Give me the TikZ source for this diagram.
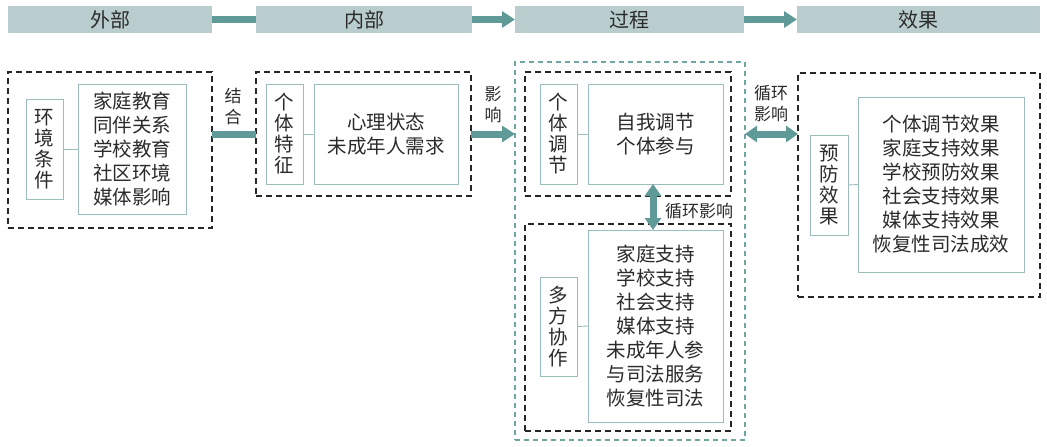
\documentclass[tikz,border=0pt]{standalone}
\usepackage{fontspec}
\setmainfont{Noto Sans CJK SC}
\usetikzlibrary{arrows.meta}
\definecolor{barfill}{HTML}{BACDCE}
\definecolor{arrowc}{HTML}{5F9A98}
\definecolor{tealdash}{HTML}{6FA6A3}
\definecolor{thinb}{HTML}{9CBDBD}
\definecolor{txt}{HTML}{2B2B2B}
\begin{document}
\begin{tikzpicture}[x=1pt,y=-1pt,
  every node/.style={inner sep=0pt,outer sep=0pt,text=txt},
  hbar/.style={fill=barfill,font=\fontsize{20}{24}\selectfont},
  blackdash/.style={draw=black!85,line width=2pt,dash pattern=on 6pt off 4pt},
  tealbox/.style={draw=tealdash,line width=1.6pt,dash pattern=on 5pt off 4pt},
  lbox/.style={draw=thinb,line width=0.9pt,fill=white,align=center,font=\fontsize{19.5}{21}\selectfont},
  cbox/.style={draw=thinb,line width=0.9pt,fill=white,align=center,font=\fontsize{19.5}{24}\selectfont},
  tie/.style={draw=thinb,line width=0.9pt},
  lab/.style={align=center,font=\fontsize{17}{21}\selectfont},
  bigline/.style={draw=arrowc,line width=7pt},
  bigarrow/.style={draw=arrowc,line width=7pt,-{Triangle[length=13pt,width=16pt]}},
  bothway/.style={draw=arrowc,line width=7pt,{Triangle[length=12pt,width=16pt]}-{Triangle[length=12pt,width=16pt]}}
]
\useasboundingbox (0,0) rectangle (1047,447);
\fill[white] (0,0) rectangle (1047,447);

% header bars
\node[hbar,minimum width=204,minimum height=27] (hA) at (110,19.5) {外部};
\node[hbar,minimum width=216,minimum height=27] (hB) at (364,19.5) {内部};
\node[hbar,minimum width=229,minimum height=27] (hC) at (629.5,19.5) {过程};
\node[hbar,minimum width=243,minimum height=27] (hD) at (918.5,19.5) {效果};
\draw[bigline] (hA.east) -- (hB.west);
\draw[bigarrow] (hB.east) -- (hC.west);
\draw[bigarrow] (hC.east) -- (hD.west);

% dashed frames
\node[blackdash,minimum width=204,minimum height=156] (dA) at (110,150) {};
\node[blackdash,minimum width=215,minimum height=124] (dB) at (363.5,134) {};
\node[tealbox,minimum width=230,minimum height=378] (tC) at (630,251) {};
\node[blackdash,minimum width=206,minimum height=124] (dC1) at (628,134) {};
\node[blackdash,minimum width=206,minimum height=207] (dC2) at (628,327.5) {};
\node[blackdash,minimum width=242,minimum height=224] (dD) at (919,185) {};

% external
\node[lbox,minimum width=37,minimum height=100] (lA) at (44.5,149) {环\\境\\条\\件};
\node[cbox,minimum width=108,minimum height=130] (cA) at (132,149) {家庭教育\\同伴关系\\学校教育\\社区环境\\媒体影响};
\draw[tie] (lA.east) -- (cA.west);

% internal
\node[lbox,minimum width=37,minimum height=100] (lB) at (284.5,134) {个\\体\\特\\征};
\node[cbox,minimum width=144,minimum height=100] (cB) at (386,134) {心理状态\\未成年人需求};
\draw[tie] (lB.east) -- (cB.west);

% process
\node[lbox,minimum width=37,minimum height=100] (lC1) at (558.5,134) {个\\体\\调\\节};
\node[cbox,minimum width=135,minimum height=100] (cC1) at (655.5,134) {自我调节\\个体参与};
\draw[tie] (lC1.east) -- (cC1.west);
\node[lbox,minimum width=37,minimum height=99] (lC2) at (558.5,326.5) {多\\方\\协\\作};
\node[cbox,minimum width=135,minimum height=192] (cC2) at (655.5,326) {家庭支持\\学校支持\\社会支持\\媒体支持\\未成年人参\\与司法服务\\恢复性司法};
\draw[tie] (lC2.east) -- (cC2.west);

% effect
\node[lbox,minimum width=38,minimum height=100] (lD) at (829,185) {预\\防\\效\\果};
\node[cbox,minimum width=166,minimum height=175] (cD) at (941,184.5) {个体调节效果\\家庭支持效果\\学校预防效果\\社会支持效果\\媒体支持效果\\恢复性司法成效};
\draw[tie] (lD.east) -- (cD.west);

% connectors between stages
\draw[bigline] (dA.east |- dB.west) -- (dB.west);
\draw[bigarrow] (dB.east) -- (dB.east -| tC.west);
\draw[bothway] (tC.east |- dC1) -- (dD.west |- dC1);
\draw[bothway] ([xshift=-2.5pt]cC1.south) -- ([xshift=-2.5pt]cC2.north);

% labels
\node[lab] (l1) at (233,107) {结\\合};
\node[lab] (l2) at (493,105) {影\\响};
\node[lab] (l3) at (771,104) {循环\\影响};
\node[lab] (l4) at (699,211) {循环影响};
\end{tikzpicture}
\end{document}
